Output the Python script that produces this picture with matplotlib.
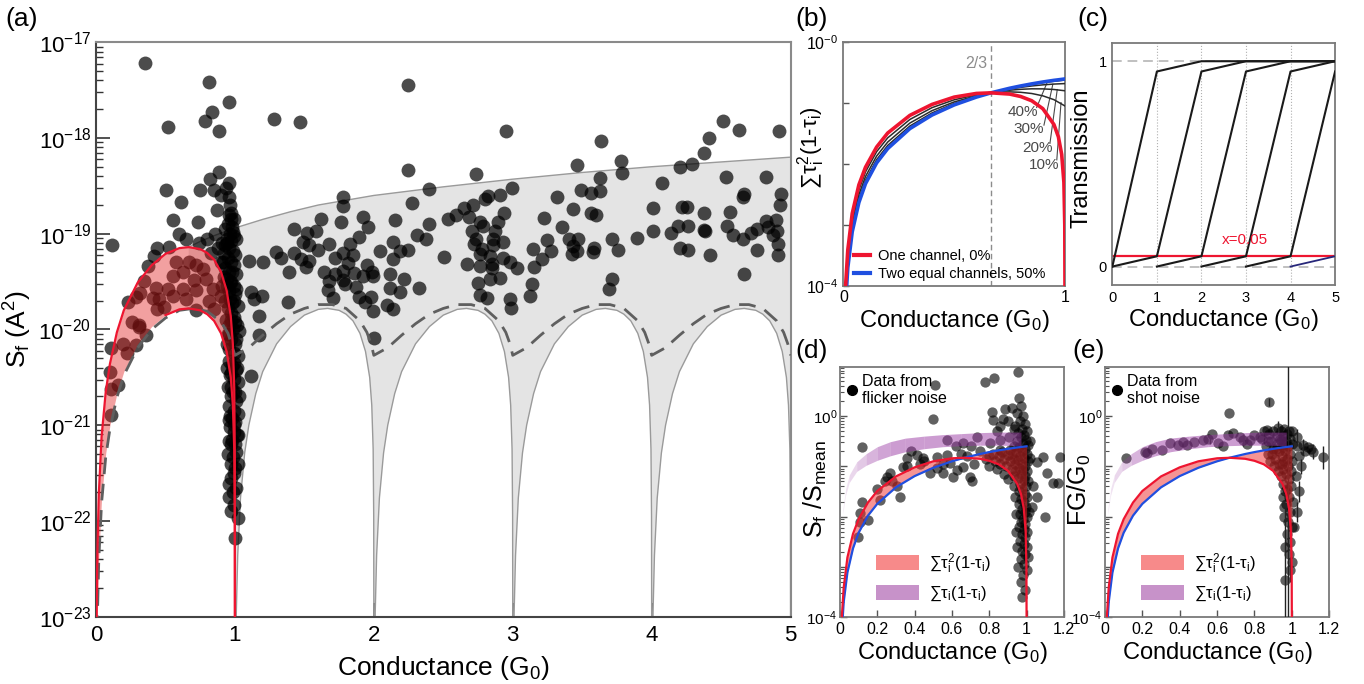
import numpy as np
import matplotlib
matplotlib.use("Agg")
import matplotlib.pyplot as plt
from matplotlib.lines import Line2D
from matplotlib.patches import Patch
from matplotlib.ticker import LogLocator, FixedLocator, FixedFormatter, NullFormatter, NullLocator

plt.rcParams['font.family'] = ['Liberation Sans', 'DejaVu Sans']
plt.rcParams['mathtext.fontset'] = 'custom'
plt.rcParams['mathtext.rm'] = 'Liberation Sans'
plt.rcParams['mathtext.it'] = 'Liberation Sans:italic'
plt.rcParams['mathtext.bf'] = 'Liberation Sans:bold'

# ======================= DATA =======================
# ---- panel (a): curves, values are log10(S_f / A^2)
a_hump_x = [0.0, 0.003, 0.005, 0.01, 0.02, 0.04, 0.07, 0.1, 0.15, 0.2, 0.3, 0.4, 0.5, 0.6,
            0.667, 0.75, 0.8, 0.85, 0.9, 0.94, 0.97, 0.985, 0.995, 0.999, 0.9999, 0.99999, 1.0]
a_red_hi_log = [-25, -23.36, -22.91, -22.31, -21.72, -21.12, -20.65, -20.36, -20.03, -19.80, -19.51,
                -19.33, -19.21, -19.15, -19.14, -19.16, -19.20, -19.27, -19.40, -19.59, -19.86,
                -20.15, -20.61, -21.31, -22.31, -23.31, -25]
a_red_lo_log = [-25, -24.0, -23.55, -22.95, -22.36, -21.76, -21.29, -21.00, -20.67, -20.44, -20.15,
                -19.97, -19.85, -19.79, -19.78, -19.80, -19.84, -19.91, -20.04, -20.23, -20.50,
                -20.79, -21.25, -21.95, -22.95, -23.95, -25]
a_dash0_x = [0.0, 0.01, 0.02, 0.04, 0.07, 0.1, 0.15, 0.2, 0.3, 0.4, 0.5, 0.6, 0.7, 0.8, 0.9, 0.95, 1.0]
a_dash0_log = [-25, -23.0, -22.40, -21.81, -21.33, -21.04, -20.71, -20.48, -20.19, -20.00, -19.88,
               -19.80, -19.78, -19.81, -19.92, -20.04, -20.27]
a_dash_u = [0.0, 0.1, 0.2, 0.3, 0.4, 0.5, 0.6, 0.7, 0.8, 0.9, 0.95, 0.98, 1.0]
a_dash_log = [-20.27, -20.19, -20.06, -19.94, -19.84, -19.78, -19.74, -19.74, -19.78, -19.91,
              -20.03, -20.15, -20.27]
a_up_x = [0.667, 0.75, 0.85, 1.0, 1.2, 1.4, 1.6, 1.8, 2.0, 2.5, 3.0, 3.5, 4.0, 4.5, 5.0]
a_up_log = [-19.14, -19.08, -19.02, -18.94, -18.85, -18.77, -18.70, -18.65, -18.60, -18.51,
            -18.43, -18.36, -18.30, -18.25, -18.20]
a_yticks = [1e-23, 1e-22, 1e-21, 1e-20, 1e-19, 1e-18, 1e-17]

# ---- panel (a): flicker-noise data (G/G0, log10 S_f)
a_points = [
    (0.355, -17.22), (0.81, -17.41), (0.96, -17.62), (0.835, -17.73), (0.787, -17.82), (0.516, -17.88),
    (0.888, -17.93), (1.284, -17.80), (1.469, -17.83), (0.888, -18.35), (0.823, -18.43), (0.504, -18.54),
    (0.749, -18.54), (0.852, -18.54), (0.936, -18.52), (0.612, -18.67), (0.552, -18.86), (0.732, -18.88),
    (0.60, -19.0), (0.648, -19.05), (0.115, -19.12), (0.523, -19.14), (0.42, -19.23), (0.372, -19.34),
    (0.437, -19.15), (0.74, -19.1), (0.8, -19.05), (0.83, -19.2), (0.86, -19.0), (0.88, -19.15),
    (0.87, -18.75), (0.9, -18.6),
    (1.428, -18.95), (1.517, -18.99), (1.584, -18.97), (1.62, -18.85), (1.488, -19.09), (1.536, -19.12),
    (1.68, -19.11), (1.596, -19.17), (1.296, -19.19), (1.332, -19.25), (1.428, -19.20), (1.476, -19.26),
    (1.536, -19.28), (1.512, -19.35), (1.392, -19.40), (1.644, -19.40), (1.68, -19.49), (1.104, -19.28),
    (1.2, -19.29), (1.668, -19.59), (1.709, -19.67), (1.38, -19.71), (1.116, -19.61), (1.14, -19.68),
    (1.195, -19.65), (1.171, -19.86), (1.176, -20.06), (1.116, -20.49), (2.0, -20.09),
    (2.249, -17.45), (2.952, -17.93), (2.249, -18.33), (2.734, -18.38), (1.781, -18.62), (1.781, -18.71),
    (2.40, -18.53), (2.993, -18.52), (3.317, -18.62), (2.273, -18.68), (2.825, -18.61), (2.909, -18.60),
    (2.801, -18.64), (2.717, -18.70), (2.652, -18.73), (2.938, -18.78), (2.592, -18.80), (2.537, -18.85),
    (2.688, -18.83), (1.762, -18.88), (1.92, -18.83), (1.961, -18.93), (2.153, -18.86), (2.40, -18.90),
    (2.765, -18.88), (2.897, -18.88), (2.873, -18.97), (2.789, -18.92), (2.705, -18.97), (3.228, -18.84),
    (3.357, -18.93), (2.309, -19.01), (2.376, -19.06), (1.896, -19.03), (1.829, -19.11), (2.136, -19.09),
    (2.045, -19.18), (2.189, -19.18), (2.244, -19.17), (2.136, -19.26), (1.781, -19.20), (1.853, -19.22),
    (1.721, -19.25), (1.817, -19.31), (2.736, -19.06), (2.724, -19.11), (2.777, -19.16), (2.861, -19.06),
    (2.861, -19.12), (2.933, -19.09), (2.837, -19.23), (2.765, -19.21), (2.506, -19.24), (2.669, -19.32),
    (2.765, -19.34), (2.849, -19.32), (2.849, -19.36), (2.928, -19.25), (2.981, -19.30), (3.029, -19.36),
    (3.149, -19.16), (3.245, -19.07), (3.274, -19.18), (3.214, -19.26), (3.154, -19.35), (3.137, -19.52),
    (3.125, -19.65), (2.837, -19.47), (2.909, -19.46), (2.748, -19.51), (2.765, -19.64), (2.818, -19.67),
    (2.981, -19.68), (2.988, -19.78), (2.328, -19.57), (2.218, -19.47), (2.189, -19.61), (2.117, -19.42),
    (2.117, -19.57), (1.997, -19.44), (1.949, -19.33), (1.985, -19.40), (1.925, -19.44), (1.858, -19.41),
    (1.776, -19.39), (1.721, -19.42), (1.781, -19.48), (1.793, -19.53), (1.872, -19.56), (1.896, -19.66),
    (1.937, -19.71), (1.979, -19.66), (1.992, -19.81), (2.093, -19.74), (2.136, -19.79),
    (4.511, -17.82), (4.631, -17.92), (4.919, -17.93), (4.413, -18.00), (4.379, -18.16), (3.633, -18.03),
    (3.460, -18.28), (3.777, -18.24), (3.786, -18.37), (3.628, -18.42), (4.204, -18.30), (4.288, -18.27),
    (4.074, -18.47), (4.535, -18.41), (4.823, -18.41), (3.491, -18.54), (3.561, -18.57), (3.628, -18.55),
    (3.436, -18.74), (3.561, -18.78), (3.599, -18.80), (4.012, -18.73), (4.221, -18.72), (4.252, -18.72),
    (4.379, -18.78), (4.564, -18.77), (4.655, -18.62), (4.665, -18.58), (4.931, -18.59), (4.924, -18.70),
    (3.407, -19.05), (3.472, -19.06), (3.431, -19.13), (3.424, -19.21), (3.46, -19.18), (3.575, -19.19),
    (3.587, -19.15), (3.714, -19.06), (3.760, -19.17), (3.892, -19.04), (4.012, -18.97), (4.139, -18.99),
    (4.19, -18.92), (4.264, -18.92), (4.377, -18.96), (4.384, -18.97), (4.204, -19.15), (4.264, -19.17),
    (4.418, -19.22), (4.54, -18.92), (4.588, -19.01), (4.655, -19.06), (4.713, -18.99), (4.756, -18.95),
    (4.823, -18.87), (4.895, -18.86), (4.84, -18.93), (4.876, -19.01), (4.905, -18.97), (4.912, -19.11),
    (4.912, -19.22), (4.756, -19.17), (4.665, -19.42), (3.712, -19.47), (3.695, -19.58),
    # inside the single-channel band
    (0.10, -20.44), (0.108, -20.62), (0.108, -20.89), (0.108, -20.19), (0.156, -20.58), (0.22, -20.25),
    (0.288, -20.16), (0.312, -19.97), (0.36, -20.06), (0.348, -19.49), (0.432, -19.57), (0.288, -19.66),
    (0.456, -19.68), (0.516, -19.58), (0.552, -19.44), (0.576, -19.30), (0.624, -19.40), (0.672, -19.30),
    (0.72, -19.33), (0.768, -19.37), (0.708, -19.48), (0.792, -19.47), (0.84, -19.58), (0.624, -19.58),
    (0.552, -19.65), (0.492, -19.77), (0.439, -19.79), (0.312, -19.95), (0.648, -19.68), (0.72, -19.59),
    (0.816, -19.70), (0.852, -19.79), (0.90, -19.65), (0.72, -19.80), (0.197, -20.15), (0.257, -19.92),
    (0.233, -19.71), (0.317, -19.62), (0.413, -19.67),
    # dense column near 1 G0
    (0.955, -18.47), (0.96, -18.62), (0.965, -18.70), (0.97, -18.78), (0.975, -18.85), (0.95, -18.90),
    (0.98, -18.93), (0.965, -19.0), (0.99, -19.02), (0.94, -19.05), (0.975, -19.08), (0.93, -19.12),
    (0.96, -19.15), (0.985, -19.18), (1.0, -19.22), (0.92, -19.2), (0.95, -19.25), (0.97, -19.3),
    (0.99, -19.33), (0.93, -19.36), (0.96, -19.4), (1.01, -19.42), (0.945, -19.47), (0.975, -19.5),
    (0.99, -19.55), (0.955, -19.6), (1.0, -19.63), (0.965, -19.68), (0.98, -19.72), (1.02, -19.75),
    (0.95, -19.78), (0.97, -19.83), (0.99, -19.87), (1.0, -19.92), (0.96, -19.95), (0.985, -20.0),
    (1.03, -20.02), (0.95, -20.05), (0.975, -20.1), (1.0, -20.15), (0.96, -20.2), (0.99, -20.25),
    (1.02, -20.28), (0.955, -20.33), (0.98, -20.38), (1.005, -20.42), (0.965, -20.48), (0.99, -20.52),
    (1.025, -20.55), (0.97, -20.6), (1.0, -20.65), (0.975, -20.7), (1.01, -20.75), (0.96, -20.8),
    (0.99, -20.85), (1.02, -20.88), (0.98, -20.92), (1.0, -20.97), (0.965, -21.02), (0.99, -21.07),
    (1.015, -21.1), (0.98, -21.15), (1.0, -21.2), (0.96, -21.17), (1.008, -21.28), (0.985, -21.33),
    (0.97, -21.4), (1.0, -21.45), (0.99, -21.5), (0.96, -21.61), (1.008, -21.66), (0.96, -21.75),
    (0.996, -21.83), (1.02, -21.97), (1.003, -22.18),
    (0.93, -18.95), (0.945, -19.1), (0.985, -18.98), (1.005, -19.05), (0.915, -19.3), (0.94, -19.55),
    (1.01, -19.58), (0.925, -19.7), (0.935, -19.9), (1.015, -19.95), (0.94, -20.15), (1.01, -20.1),
    (0.945, -20.4), (1.015, -20.4), (0.95, -20.6), (1.03, -20.7), (0.955, -20.95), (1.02, -21.1),
    (0.95, -21.3), (1.025, -21.4), (0.97, -21.2), (0.985, -21.7), (0.975, -21.9), (0.98, -19.4),
    (0.965, -19.5), (0.995, -19.7), (0.975, -19.9), (0.96, -20.05), (0.995, -20.35), (0.97, -20.45),
    (0.985, -20.65), (0.965, -20.9), (0.995, -21.0), (0.975, -21.55), (0.955, -18.8), (0.99, -18.85),
    (0.92, -19.45), (0.91, -19.1), (0.9, -19.3), (0.905, -19.55),
]

# ---- panel (b): log10 of sum tau^2 (1 - tau)
b_x = [0.005, 0.01, 0.02, 0.04, 0.07, 0.1, 0.15, 0.2, 0.3, 0.4, 0.5, 0.6, 0.667, 0.75, 0.8,
       0.85, 0.9, 0.95, 0.97, 0.985, 0.995, 0.999, 0.9999, 1.0]
b_red_log = [-4.60, -4.00, -3.41, -2.81, -2.34, -2.05, -1.72, -1.49, -1.20, -1.02, -0.90, -0.84,
             -0.83, -0.85, -0.89, -0.96, -1.09, -1.35, -1.55, -1.84, -2.30, -3.0, -4.0, -6.0]
b_blue_log = [-4.90, -4.30, -3.70, -3.11, -2.63, -2.32, -1.98, -1.745, -1.417, -1.194, -1.028,
              -0.900, -0.829, -0.755, -0.717, -0.683, -0.652, -0.625, -0.616, -0.609, -0.604,
              -0.602, -0.602, -0.602]
b_kx = [0.01, 0.02, 0.04, 0.07, 0.1, 0.15, 0.2, 0.3, 0.4, 0.5, 0.6, 0.667, 0.75, 0.8, 0.85, 0.9, 0.95, 1.0]
b_p10_log = [-4.09, -3.49, -2.898, -2.424, -2.127, -1.796, -1.569, -1.267, -1.073, -0.944, -0.862,
             -0.829, -0.814, -0.821, -0.841, -0.879, -0.942, -1.046]
b_p20_log = [-4.17, -3.57, -2.977, -2.501, -2.202, -1.868, -1.638, -1.326, -1.122, -0.979, -0.878,
             -0.829, -0.787, -0.772, -0.764, -0.765, -0.775, -0.796]
b_p30_log = [-4.24, -3.64, -3.044, -2.566, -2.265, -1.928, -1.694, -1.375, -1.160, -1.005, -0.890,
             -0.829, -0.769, -0.740, -0.717, -0.699, -0.686, -0.678]
b_p40_log = [-4.29, -3.69, -3.089, -2.610, -2.308, -1.968, -1.731, -1.406, -1.185, -1.022, -0.897,
             -0.829, -0.758, -0.723, -0.691, -0.663, -0.640, -0.620]
b_labels = ['40%', '30%', '20%', '10%']

# ---- panel (c): channel transmissions (break points)
c_channels = [
    ([0, 1, 2, 5], [0, 0.95, 1, 1]),
    ([0, 1, 2, 3, 5], [0, 0.05, 0.95, 1, 1]),
    ([1, 2, 3, 4, 5], [0, 0.05, 0.95, 1, 1]),
    ([2, 3, 4, 5], [0, 0.05, 0.95, 1]),
    ([3, 4, 5], [0, 0.05, 0.95]),
]
c_last_x = [4, 5]
c_last_y = [0, 0.05]
c_leak = 0.05

# ---- panels (d), (e): sum tau (1 - tau) band, log10
p_x = [0.015, 0.03, 0.05, 0.09, 0.14, 0.2, 0.27, 0.35, 0.45, 0.55, 0.65, 0.75, 0.85, 0.97]
p_hi_log = [-1.85, -1.45, -1.17, -0.91, -0.75, -0.61, -0.51, -0.44, -0.40, -0.37, -0.35, -0.33, -0.32, -0.32]
p_lo_log = [-1.95, -1.58, -1.32, -1.10, -0.98, -0.88, -0.79, -0.71, -0.65, -0.61, -0.59, -0.58, -0.58, -0.59]
p_alpha = [0.10, 0.14, 0.2, 0.28, 0.38, 0.46, 0.5, 0.5, 0.5, 0.5, 0.5, 0.5, 0.5]

d_points = [
    (0.955, 0.88), (0.777, 0.68), (0.825, 0.76), (0.509, 0.62), (0.884, 0.14), (0.813, 0.07), (0.821, -0.07),
    (0.875, -0.06), (0.5, -0.05), (0.116, -0.62), (0.905, -0.41), (0.857, -0.48), (0.804, -0.54), (0.732, -0.41),
    (0.661, -0.54), (0.571, -0.48), (0.411, -0.77), (0.446, -0.84), (0.357, -0.84), (0.339, -1.01), (0.268, -1.14),
    (0.25, -1.21), (0.304, -1.40), (0.321, -1.60), (0.214, -1.67), (0.116, -1.70), (0.107, -1.93), (0.107, -2.10),
    (0.152, -2.07), (0.098, -2.40), (0.482, -1.14), (0.518, -1.04), (0.554, -1.14), (0.589, -0.94), (0.625, -1.07),
    (0.661, -1.01), (0.696, -1.21), (0.705, -1.30), (0.607, -1.21), (0.518, -0.81), (0.571, -0.77), (1.018, -0.84),
    (1.054, -0.91), (1.089, -0.81), (1.107, -1.14), (1.143, -1.34), (1.17, -1.34), (1.179, -0.81), (1.098, -2.0),
    (1.036, -1.40), (1.054, -1.60), (1.027, -1.80), (0.38, -0.7), (0.45, -0.9), (0.65, -0.75), (0.7, -0.6),
    (0.75, -0.7), (0.78, -0.85), (0.84, -0.3), (0.86, -0.2), (0.9, -0.1), (0.92, 0.15), (0.93, -0.25),
    (0.72, -0.95), (0.8, -1.0), (0.2, -1.45), (0.24, -1.3), (0.28, -1.3), (0.36, -1.0), (0.43, -0.95),
    (0.55, -0.95), (0.68, -0.8), (0.62, -0.6),
    (0.8, -0.8), (0.82, -0.75), (0.83, -0.9), (0.85, -0.8), (0.86, -0.95), (0.87, -0.72), (0.88, -0.85),
    (0.89, -1.0), (0.9, -0.78), (0.91, -0.9), (0.92, -1.05), (0.92, -0.75), (0.93, -0.85), (0.84, -1.05),
    (0.88, -1.15), (0.9, -1.25), (0.93, -1.2), (0.91, -0.68), (0.86, -0.68), (0.94, -1.6), (0.94, -1.1),
    (0.96, 0.35), (0.97, 0.2), (0.95, 0.05), (0.98, 0.0), (0.965, -0.1), (0.99, -0.15), (0.94, -0.2),
    (0.975, -0.25), (1.0, -0.3), (0.955, -0.33), (0.985, -0.38), (0.97, -0.42), (0.995, -0.47), (0.95, -0.5),
    (0.98, -0.55), (1.01, -0.58), (0.96, -0.62), (0.99, -0.66), (0.975, -0.7), (0.945, -0.72), (1.0, -0.75),
    (0.965, -0.8), (0.985, -0.84), (0.955, -0.88), (1.005, -0.9), (0.975, -0.95), (0.99, -1.0), (0.96, -1.03),
    (0.98, -1.08), (1.0, -1.1), (0.97, -1.15), (0.99, -1.2), (0.955, -1.23), (0.985, -1.28), (1.01, -1.3),
    (0.965, -1.35), (0.995, -1.4), (0.975, -1.45), (0.96, -1.5), (0.99, -1.55), (1.0, -1.6), (0.97, -1.65),
    (0.985, -1.7), (0.96, -1.75), (0.995, -1.8), (0.975, -1.85), (0.99, -1.9), (0.965, -1.95), (1.0, -2.0),
    (0.98, -2.05), (0.97, -2.1), (0.99, -2.15), (0.96, -2.2), (0.985, -2.25), (1.0, -2.3), (0.975, -2.35),
    (0.99, -2.4), (0.965, -2.48), (0.985, -2.55), (1.0, -2.6), (0.975, -2.68), (0.99, -2.75), (0.97, -2.85),
    (0.985, -2.95), (1.0, -3.05), (0.98, -3.15), (0.97, -3.3), (0.99, -3.45), (0.975, -3.6), (0.95, -2.6),
    (0.955, -3.0), (1.01, -2.8), (0.945, -1.95), (0.935, -1.4), (1.015, -1.9), (0.94, -0.95), (1.02, -0.5),
    (0.93, -0.6), (0.945, -2.3),
]

e_points = [
    (0.665, 0.05), (0.879, 0.28), (0.112, -0.84), (0.214, -0.71), (0.226, -0.74), (0.303, -0.68), (0.348, -0.54),
    (0.39, -0.58), (0.437, -0.58), (0.478, -0.51), (0.526, -0.48), (0.571, -0.36), (0.606, -0.54), (0.633, -0.60),
    (0.66, -0.38), (0.687, -0.34), (0.74, -0.48), (0.776, -0.48), (0.829, -0.41), (0.865, -0.28), (0.927, -0.23),
    (1.025, -0.41), (1.061, -0.58), (1.088, -0.61), (1.114, -0.71), (1.168, -0.82), (0.25, -0.65), (0.42, -0.52),
    (0.55, -0.45), (0.72, -0.42), (0.8, -0.38), (0.76, -0.55), (1.03, -0.6), (1.04, -0.8), (1.05, -1.0),
    (1.02, -1.2), (1.04, -1.5), (1.03, -1.9), (1.01, -2.2), (1.07, -0.7), (1.1, -0.65),
    (0.84, -0.45), (0.86, -0.6), (0.88, -0.35), (0.87, -0.75), (0.89, -0.5), (0.9, -0.3), (0.9, -0.65),
    (0.91, -0.85), (0.92, -0.4), (0.92, -0.55), (0.93, -0.7), (0.93, -0.95), (0.94, -0.3), (0.94, -0.5),
    (0.945, -0.8), (0.95, -0.62), (0.95, -1.05), (0.955, -0.4), (0.96, -0.9), (0.96, -0.25), (0.965, -0.7),
    (0.97, -0.5), (0.97, -1.15), (0.975, -0.35), (0.975, -0.85), (0.98, -1.0), (0.98, -0.6), (0.985, -0.3),
    (0.985, -1.25), (0.99, -0.75), (0.99, -0.45), (0.995, -1.1), (1.0, -0.55), (1.0, -0.9), (1.0, -0.3),
    (0.885, -0.9), (0.905, -1.0), (0.925, -1.1), (0.94, -1.2), (0.955, -1.35), (0.965, -1.5), (0.975, -1.45),
    (0.985, -1.6), (0.995, -1.4), (1.005, -1.7), (0.97, -1.75), (0.99, -1.9), (0.96, -2.0), (0.98, -2.1),
    (1.0, -2.2), (0.975, -2.35), (0.99, -2.5), (0.965, -2.6), (0.985, -2.75), (1.0, -2.9), (0.99, -3.06),
    (0.963, -3.26), (0.95, -1.6), (0.96, -1.8), (0.85, -0.3), (0.87, -0.5), (0.895, -0.75), (0.915, -0.65),
    (0.935, -0.45), (0.955, -0.55), (0.945, -0.95),
]
# error bars of (e): x, lower log10, upper log10
e_bar_x = [0.981, 0.963, 1.168, 1.114, 1.061, 1.025, 0.879, 0.927, 0.74, 1.04, 1.03, 1.05, 0.99, 0.56]
e_bar_lo = [-5, -5, -1.05, -0.85, -0.75, -0.6, 0.2, -0.35, -0.6, -1.7, -2.1, -1.15, -3.3, -0.55]
e_bar_hi = [1.2, -1.8, -0.6, -0.55, -0.45, -0.25, 0.36, -0.1, -0.35, -1.3, -1.7, -0.85, -2.8, -0.42]

# ======================= FIGURE =======================
fig = plt.figure(figsize=(13.64, 6.84), dpi=100)
RED = '#ee1530'
BLUE = '#1f4fe0'


def pw(v):
    return 10.0 ** np.asarray(v, dtype=float)


# ---------------- (a) ----------------
axA = fig.add_axes([0.0704, 0.0984, 0.5092, 0.8398])
axA.set_yscale('log')
hx = np.array(a_hump_x)
lo = np.array(a_red_lo_log)
hi = np.array(a_red_hi_log)
m = hx >= 0.667
low_x = [hx[m]]
low_y = [lo[m]]
for n in range(1, 5):
    low_x.append(n + hx[1:])
    low_y.append(lo[1:])
low_x = np.concatenate(low_x)
low_y = np.concatenate(low_y)
poly_x = np.concatenate([a_up_x, low_x[::-1]])
poly_y = np.concatenate([a_up_log, low_y[::-1]])
axA.fill(poly_x, pw(poly_y), color='#e4e4e4', lw=0, zorder=1)
axA.plot(a_up_x, pw(a_up_log), color='#9a9a9a', lw=1.0, zorder=2)
mm = low_x >= 1.0
axA.plot(low_x[mm], pw(low_y[mm]), color='#9a9a9a', lw=1.0, zorder=2)

dx = [np.array(a_dash0_x)]
dy = [np.array(a_dash0_log)]
for n in range(1, 5):
    dx.append(n + np.array(a_dash_u[1:]))
    dy.append(np.array(a_dash_log[1:]))
dx = np.concatenate(dx)
dy = np.concatenate(dy)
axA.plot(dx, pw(dy), color='#5f5f5f', lw=2.0, dashes=(6, 3.5), zorder=6)

ax_pts = np.array(a_points)
axA.scatter(ax_pts[:, 0], pw(ax_pts[:, 1]), s=100, color='black', alpha=0.7, lw=0, zorder=4)
axA.fill_between(hx, pw(lo), pw(hi), color='#e11e1e', alpha=0.42, lw=0, zorder=5)
axA.plot(hx, pw(hi), color=RED, lw=1.6, zorder=7)
mr = hx >= 0.45
axA.plot(hx[mr], pw(lo[mr]), color=RED, lw=1.6, zorder=7)

axA.set_xlim(0, 5)
axA.set_ylim(1e-23, 1e-17)
axA.yaxis.set_major_locator(FixedLocator(a_yticks))
axA.yaxis.set_major_formatter(FixedFormatter(['$10^{-23}$', '$10^{-22}$', '$10^{-21}$', '$10^{-20}$',
                                              '$10^{-19}$', '$10^{-18}$', '$10^{-17}$']))
axA.yaxis.set_minor_locator(LogLocator(base=10, subs=np.arange(2, 10), numticks=100))
axA.yaxis.set_minor_formatter(NullFormatter())
axA.set_xticks([0, 1, 2, 3, 4, 5])
axA.tick_params(axis='both', which='major', direction='in', length=10, width=1.2, labelsize=16,
                top=False, right=False, colors='#333333', labelcolor='black')
axA.tick_params(axis='y', which='minor', direction='in', length=5, width=1.0, colors='#333333')
axA.tick_params(axis='x', which='major', pad=6)
for s in ['left', 'bottom']:
    axA.spines[s].set_color('#444444'); axA.spines[s].set_linewidth(1.5)
for s in ['top', 'right']:
    axA.spines[s].set_color('#8a8a8a'); axA.spines[s].set_linewidth(1.5)
axA.set_xlabel('Conductance (G$_0$)', fontsize=19, labelpad=6)
axA.set_ylabel('S$_\\mathrm{f}$ (A$^2$)', fontsize=19)
axA.yaxis.set_label_coords(-0.09, 0.5)

# ---------------- (b) ----------------
axB = fig.add_axes([0.6183, 0.5819, 0.1625, 0.3563])
axB.set_yscale('log')
axB.axvline(2.0 / 3.0, color='#8c8c8c', lw=1.0, dashes=(4, 2.5), zorder=1)
for arr in [b_p10_log, b_p20_log, b_p30_log, b_p40_log]:
    axB.plot(b_kx, pw(arr), color='#2b2b2b', lw=1.1, zorder=3)
axB.plot(b_x, pw(b_blue_log), color=BLUE, lw=2.6, zorder=4, solid_capstyle='butt')
axB.plot(b_x, pw(b_red_log), color=RED, lw=2.6, zorder=5, solid_capstyle='butt')
axB.set_xlim(0, 1)
axB.set_ylim(1e-4, 1)
axB.yaxis.set_major_locator(FixedLocator([1e-4, 1e-3, 1e-2, 1e-1, 1]))
axB.yaxis.set_major_formatter(FixedFormatter(['$10^{-4}$', '', '', '', '$10^{-0}$']))
axB.yaxis.set_minor_locator(NullLocator())
axB.set_xticks([0, 1])
axB.set_xticklabels(['0', '1'])
axB.tick_params(axis='both', direction='in', length=4, width=1.0, labelsize=11.5, colors='#555555',
                labelcolor='black')
axB.tick_params(axis='x', length=0, pad=3)
for s in axB.spines.values():
    s.set_color('#7a7a7a'); s.set_linewidth(1.3)
axB.set_xlabel('Conductance (G$_0$)', fontsize=17, labelpad=2)
axB.set_ylabel('∑τ$_\\mathrm{i}^2$(1-τ$_\\mathrm{i}$)', fontsize=16)
axB.yaxis.set_label_coords(-0.074, 0.566)
axB.text(0.60, 0.45, '2/3', color='#8c8c8c', fontsize=11.5, ha='center', va='center')
lab_pos = [(0.81, -1.145), (0.835, -1.42), (0.875, -1.74), (0.905, -2.01)]
lead_from = [(0.872, -1.07), (0.905, -1.36), (0.932, -1.66), (0.963, -1.93)]
lead_to = [(0.92, -0.655), (0.945, -0.69), (0.965, -0.775), (0.982, -0.99)]
for lab, (tx, ty), (fx, fy), (ex, ey) in zip(b_labels, lab_pos, lead_from, lead_to):
    axB.text(tx, 10 ** ty, lab, fontsize=11, color='#4a4a4a', ha='center', va='center')
    axB.plot([fx, ex], [10 ** fy, 10 ** ey], color='#4a4a4a', lw=0.8, zorder=2)
axB.legend(handles=[Line2D([], [], color=RED, lw=3), Line2D([], [], color=BLUE, lw=3)],
           labels=['One channel, 0%', 'Two equal channels, 50%'], loc='lower left',
           bbox_to_anchor=(0.0, -0.02), frameon=False, fontsize=10.5, handlelength=1.1,
           handletextpad=0.6, labelspacing=0.25, borderaxespad=0.3)

# ---------------- (c) ----------------
axC = fig.add_axes([0.8155, 0.5833, 0.1633, 0.3542])
for yv in [0, 1]:
    axC.axhline(yv, color='#c0c0c0', lw=1.4, dashes=(5, 3), zorder=1)
for xv in [1, 2, 3, 4]:
    axC.axvline(xv, color='#b0b0b0', lw=0.8, ls=':', zorder=1)
axC.plot([0, 5], [c_leak, c_leak], color=RED, lw=1.6, zorder=2)
for xs, ys in c_channels:
    axC.plot(xs, ys, color='#1a1a1a', lw=1.5, zorder=3)
axC.plot(c_last_x, c_last_y, color='#27277a', lw=1.3, zorder=3)
axC.text(2.98, 0.13, 'x=0.05', color=RED, fontsize=11, ha='center', va='center')
axC.set_xlim(0, 5)
axC.set_ylim(-0.09, 1.09)
axC.set_xticks([0, 1, 2, 3, 4, 5])
axC.set_yticks([0, 1])
axC.tick_params(axis='both', length=0, labelsize=10.5, pad=4)
for s in axC.spines.values():
    s.set_color('#7a7a7a'); s.set_linewidth(1.3)
axC.set_xlabel('Conductance (G$_0$)', fontsize=17, labelpad=2)
axC.set_ylabel('Transmission', fontsize=17)
axC.yaxis.set_label_coords(-0.087, 0.524)


# ---------------- (d), (e) ----------------
def noise_panel(rect, pts, label, ylabel, ylab_x):
    ax = fig.add_axes(rect)
    ax.set_yscale('log')
    p = np.array(pts)
    ax.scatter(p[:, 0], pw(p[:, 1]), s=55, color='black', alpha=0.62, lw=0, zorder=3)
    ax.fill_between(b_x, pw(b_red_log), pw(b_blue_log), color='#ee2b2b', alpha=0.5, lw=0, zorder=4)
    for i in range(len(p_x) - 1):
        ax.fill_between(p_x[i:i + 2], pw(p_lo_log[i:i + 2]), pw(p_hi_log[i:i + 2]), color='#9a3aa4',
                        alpha=p_alpha[i], lw=0, zorder=4)
    ax.plot(b_x, pw(b_blue_log), color=BLUE, lw=1.6, zorder=5)
    ax.plot(b_x, pw(b_red_log), color=RED, lw=1.6, zorder=5)
    ax.set_xlim(0, 1.2)
    ax.set_ylim(1e-4, 10 ** 0.98)
    ax.yaxis.set_major_locator(FixedLocator([1e-4, 1e-3, 1e-2, 1e-1, 1]))
    ax.yaxis.set_major_formatter(FixedFormatter(['$10^{-4}$', '', '', '', '$10^{0}$']))
    ax.yaxis.set_minor_locator(LogLocator(base=10, subs=np.arange(2, 10), numticks=100))
    ax.yaxis.set_minor_formatter(NullFormatter())
    ax.set_xticks([0, 0.2, 0.4, 0.6, 0.8, 1.0, 1.2])
    ax.set_xticklabels(['0', '0.2', '0.4', '0.6', '0.8', '1', '1.2'])
    ax.tick_params(axis='both', which='major', direction='in', length=5, width=1.0, labelsize=11.5,
                   colors='#555555', labelcolor='black')
    ax.tick_params(axis='y', which='major', labelsize=11, pad=2)
    ax.tick_params(axis='y', which='minor', direction='in', length=3, width=0.8, colors='#555555')
    for s in ax.spines.values():
        s.set_color('#7a7a7a'); s.set_linewidth(1.3)
    ax.set_xlabel('Conductance (G$_0$)', fontsize=17, labelpad=2)
    ax.set_ylabel(ylabel, fontsize=18)
    ax.yaxis.set_label_coords(ylab_x, 0.51)
    l1 = ax.legend(handles=[Line2D([], [], marker='o', color='black', ls='none', markersize=7)],
                   labels=[label], loc='upper left', bbox_to_anchor=(-0.01, 1.01), frameon=False,
                   fontsize=11.5, handlelength=0.6, handletextpad=0.35, borderaxespad=0.2)
    ax.add_artist(l1)
    ax.legend(handles=[Patch(facecolor='#f78a8a', edgecolor='none'),
                       Patch(facecolor='#c792c9', edgecolor='none')],
              labels=['∑τ$_\\mathrm{i}^2$(1-τ$_\\mathrm{i}$)', '∑τ$_\\mathrm{i}$(1-τ$_\\mathrm{i}$)'],
              loc='lower left', bbox_to_anchor=(0.13, 0.03), frameon=False, fontsize=12,
              handlelength=2.6, handleheight=1.0, handletextpad=0.6, labelspacing=0.55,
              borderaxespad=0.0)
    return ax


axD = noise_panel([0.6158, 0.0975, 0.1642, 0.3664], d_points, 'Data from\nflicker noise',
                  'S$_\\mathrm{f}$ /S$_\\mathrm{mean}$', -0.05)
axE = noise_panel([0.8101, 0.0975, 0.1644, 0.3664], e_points, 'Data from\nshot noise',
                  'FG/G$_0$', -0.055)
axE.vlines(e_bar_x, pw(e_bar_lo), pw(e_bar_hi), color='#222222', lw=1.0, zorder=3)

# panel letters
for txt, xx, yy in [('(a)', 0.004, 0.99), ('(b)', 0.583, 0.99), ('(c)', 0.790, 0.99),
                    ('(d)', 0.583, 0.505), ('(e)', 0.786, 0.505)]:
    fig.text(xx, yy, txt, fontsize=19, ha='left', va='top')

fig.savefig('out.png', dpi=100)
